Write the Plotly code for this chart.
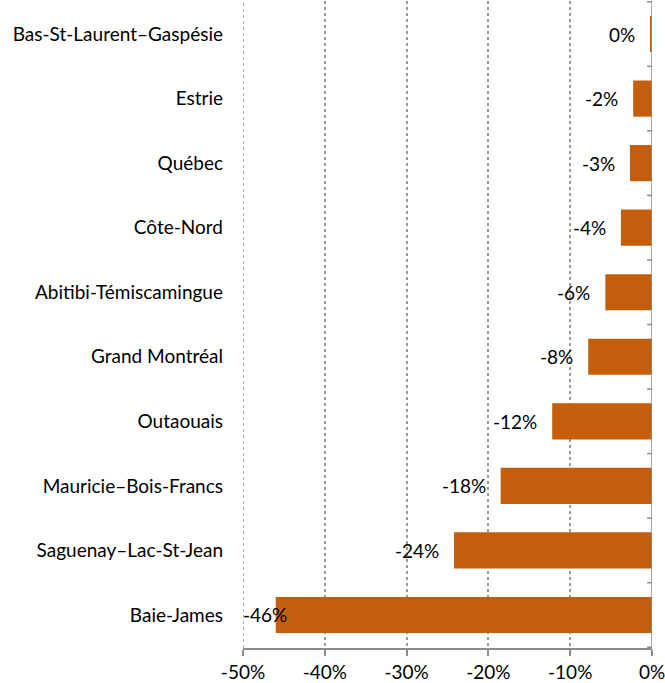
import plotly.graph_objects as go

regions = ["Bas-St-Laurent–Gaspésie", "Estrie", "Québec", "Côte-Nord",
           "Abitibi-Témiscamingue", "Grand Montréal", "Outaouais",
           "Mauricie–Bois-Francs", "Saguenay–Lac-St-Jean", "Baie-James"]
values = [-0.2, -2.3, -2.7, -3.8, -5.7, -7.8, -12.2, -18.5, -24.2, -46.0]
labels = ["0%", "-2%", "-3%", "-4%", "-6%", "-8%", "-12%", "-18%", "-24%", "-46%"]
x_ticks = [-50, -40, -30, -20, -10, 0]
x_ticktext = ["-50%", "-40%", "-30%", "-20%", "-10%", "0%"]
X_MIN, X_MAX = -50, 0

FONT = "Lato"
FS = 19
fig = go.Figure(go.Bar(
    y=regions, x=values, orientation="h",
    marker=dict(color="#C55E0C", line=dict(width=0)),
    width=0.56, hoverinfo="x+y",
))

# data labels placed at the outer end of each bar, kept inside the plot area
annotations = []
for r, v, t in zip(regions, values, labels):
    if v - 6 < X_MIN:
        annotations.append(dict(x=X_MIN, y=r, xref="x", yref="y", text=t,
                                showarrow=False, xanchor="left", xshift=-2,
                                font=dict(family=FONT, size=FS, color="black")))
    else:
        annotations.append(dict(x=v, y=r, xref="x", yref="y", text=t,
                                showarrow=False, xanchor="right", xshift=-13,
                                font=dict(family=FONT, size=FS, color="black")))

shapes = [dict(type="line", xref="x", yref="paper", x0=0, x1=0, y0=0, y1=1,
               line=dict(color="#8c8c8c", width=1.5)),
          dict(type="line", xref="x", yref="paper", x0=X_MIN, x1=X_MIN, y0=0, y1=1,
               line=dict(color="#9a9a9a", width=1.5, dash="dot"), layer="below")]
for i in range(len(regions) + 1):
    shapes.append(dict(type="line", xref="x", yref="y", x0=-0.6, x1=0,
                       y0=i - 0.5, y1=i - 0.5, line=dict(color="#8c8c8c", width=1.5)))

fig.update_layout(
    width=665, height=683,
    margin=dict(l=243, r=13, t=1, b=35),
    plot_bgcolor="white", paper_bgcolor="white",
    font=dict(family=FONT, size=FS, color="black"),
    showlegend=False,
    shapes=shapes,
    annotations=annotations,
    xaxis=dict(range=[X_MIN, X_MAX], tickvals=x_ticks, ticktext=x_ticktext,
               showgrid=True, gridcolor="#9a9a9a", griddash="dot", gridwidth=1.5,
               showline=True, linecolor="#8c8c8c", linewidth=1.5,
               ticks="outside", ticklen=6, tickcolor="#8c8c8c", tickwidth=1.5,
               zeroline=False, automargin=False, ticklabeloverflow="allow",
               tickfont=dict(family=FONT, size=FS)),
    yaxis=dict(autorange="reversed", showgrid=False, zeroline=False,
               showline=False, ticks="", automargin=False,
               ticklabelstandoff=19,
               tickfont=dict(family=FONT, size=FS)),
)
fig.write_html("out.html", config={"displayModeBar": False},
               post_script="document.body.style.margin='0';document.body.style.overflow='hidden';")
